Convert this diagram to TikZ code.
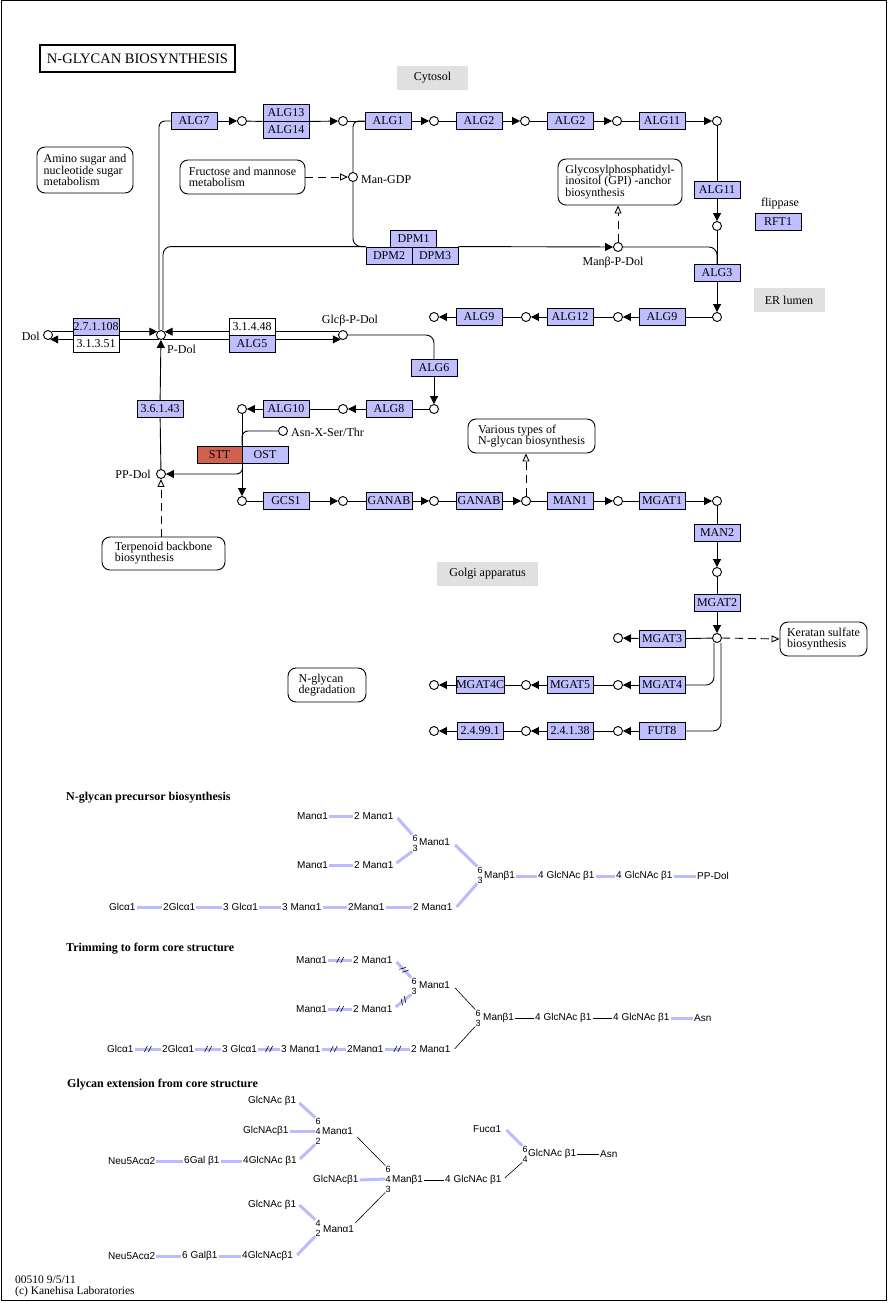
\documentclass[tikz,border=0pt]{standalone}
\usepackage{fontspec}
\setmainfont{Liberation Serif}
\newfontfamily\glyf{Liberation Sans}
\usetikzlibrary{arrows.meta,decorations.markings}
\definecolor{enzc}{RGB}{191,191,255}
\definecolor{sttc}{RGB}{209,96,80}
\definecolor{cmpc}{RGB}{224,224,224}
\definecolor{glyc}{RGB}{187,187,255}
\tikzset{
 kf/.style={font=\fontsize{12}{11.2}\selectfont},
 enz/.style={draw, fill=enzc, rectangle, minimum width=46pt, minimum height=17pt, inner sep=0pt, kf, line width=0.9pt},
 wenz/.style={enz, fill=white},
 cpd/.style={draw, fill=white, circle, minimum size=9pt, inner sep=0pt, line width=0.9pt},
 pmap/.style={draw, rounded corners=8pt, align=left, inner sep=0pt, kf, line width=0.9pt},
 comp/.style={fill=cmpc, minimum height=24pt, inner sep=0pt, kf},
 lbl/.style={kf, inner sep=0pt},
 rx/.style={line width=0.9pt},
 ar/.style={rx, -{Triangle[length=8pt,width=8pt]}},
 oar/.style={rx, dash pattern=on 8pt off 5pt, -{Triangle[open,length=8pt,width=7pt]}},
 gl/.style={glyc, line width=3pt},
 bl/.style={black, line width=0.6pt},
 gt/.style={font=\glyf\fontsize{10}{10}\selectfont, inner sep=1pt, anchor=west},
 gn/.style={font=\glyf\fontsize{9}{10}\selectfont, inner sep=0pt, align=center},
 hd/.style={font=\bfseries\fontsize{12}{12}\selectfont, anchor=west, inner sep=0pt},
 brk/.style={postaction={decorate, decoration={markings, mark=at position 0.5 with {\draw[black, line width=0.6pt] (-3.5,3)--(-0.5,-3) (0.5,3)--(3.5,-3);}}}}
}
\begin{document}
\begin{tikzpicture}[x=1pt,y=-1pt]
\useasboundingbox (0,0) rectangle (889,1303);
\draw[line width=1pt] (1,0.5) rectangle (886,1300.5);

% title and compartments
\node[draw, line width=2pt, minimum width=195pt, minimum height=27pt, inner sep=0pt, font=\fontsize{14.5}{14}\selectfont] (title) at (137.5,58.5) {N-GLYCAN BIOSYNTHESIS};
\node[comp, minimum width=71pt] (cyto) at (432.5,78) {Cytosol};
\node[comp, minimum width=71pt] (erl) at (789,300) {ER lumen};
\node[comp, minimum width=101pt] (golgi) at (487.5,574) {Golgi apparatus};

% pathway maps
\node[pmap, minimum width=96pt, minimum height=46pt] (amino) at (85,170) {Amino sugar and\\nucleotide sugar\\metabolism};
\node[pmap, minimum width=125pt, minimum height=34pt] (fru) at (242.5,177) {Fructose and mannose\\metabolism};
\node[pmap, minimum width=124pt, minimum height=46pt] (gpi) at (620,182) {Glycosylphosphatidyl-\\inositol (GPI) -anchor\\biosynthesis};
\node[pmap, minimum width=127pt, minimum height=34pt] (var) at (531.5,436) {Various types of\\N-glycan biosynthesis};
\node[pmap, minimum width=123pt, minimum height=33pt] (terp) at (163.5,553.5) {Terpenoid backbone\\biosynthesis};
\node[pmap, minimum width=78pt, minimum height=34pt] (ndeg) at (327,685) {N-glycan\\degradation};
\node[pmap, minimum width=87pt, minimum height=34pt] (ker) at (823.5,639) {Keratan sulfate\\biosynthesis};

% compounds
\node[cpd] (c1) at (242,121) {};
\node[cpd] (c2) at (343,121) {};
\node[cpd] (c3) at (434,121) {};
\node[cpd] (c4) at (525,121) {};
\node[cpd] (c5) at (617,121) {};
\node[cpd] (c6) at (717,121) {};
\node[cpd] (c7) at (717,226) {};
\node[cpd] (c8) at (717,317) {};
\node[cpd] (mangdp) at (353,177) {};
\node[lbl, anchor=west] (lmangdp) at (361,180) {Man-GDP};
\node[cpd] (manbpdol) at (618,247) {};
\node[lbl] (lmanb) at (613,263) {Manβ-P-Dol};
\node[cpd] (c9) at (618,317) {};
\node[cpd] (c10) at (526,317) {};
\node[cpd] (c11) at (434,317) {};
\node[cpd] (pdol) at (161,335) {};
\node[lbl, anchor=west] (lpdol) at (167,349) {P-Dol};
\node[cpd] (dol) at (48,335) {};
\node[lbl, anchor=east] (ldol) at (40,336) {Dol};
\node[cpd] (glcb) at (343,335) {};
\node[lbl] (lglcb) at (350,321) {Glcβ-P-Dol};
\node[cpd] (c12) at (434,409) {};
\node[cpd] (c13) at (343,409) {};
\node[cpd] (c14) at (242,409) {};
\node[cpd] (asn) at (283,431) {};
\node[lbl, anchor=west] (lasn) at (291,432) {Asn-X-Ser/Thr};
\node[cpd] (ppdol) at (161,474) {};
\node[lbl, anchor=east] (lppdol) at (151,474) {PP-Dol};
\node[cpd] (g1) at (242,501) {};
\node[cpd] (g2) at (343,501) {};
\node[cpd] (g3) at (434,501) {};
\node[cpd] (g4) at (526,501) {};
\node[cpd] (g5) at (618,501) {};
\node[cpd] (g6) at (717,501) {};
\node[cpd] (g7) at (717,572) {};
\node[cpd] (g8) at (717,638) {};
\node[cpd] (g9) at (618,638) {};
\node[cpd] (h1) at (618,685) {};
\node[cpd] (h2) at (526,685) {};
\node[cpd] (h3) at (434,685) {};
\node[cpd] (k1) at (618,731) {};
\node[cpd] (k2) at (526,731) {};
\node[cpd] (k3) at (434,731) {};

% lines passing through stacked boxes (drawn first)
\draw[ar] (dol.42) -- (pdol.138);
\draw[ar] (pdol.-117) -- (dol.-63);
\draw[ar] (glcb.138) -- (pdol.42);
\draw[ar] (pdol.-63) -- (glcb.-117);
\draw[ar] (c14.south) -- (g1.north);
\draw[rx, rounded corners=6pt] (asn.west) -| (242,445);

% enzymes
\node[enz] (ALG7) at (194,121) {ALG7};
\node[enz] (ALG13) at (286,112.5) {ALG13};
\node[enz] (ALG14) at (286,129.5) {ALG14};
\node[enz] (ALG1) at (388,121) {ALG1};
\node[enz] (ALG2a) at (479,121) {ALG2};
\node[enz] (ALG2b) at (570,121) {ALG2};
\node[enz] (ALG11a) at (662,121) {ALG11};
\node[enz] (ALG11b) at (717,190) {ALG11};
\node[enz] (ALG3) at (717,273) {ALG3};
\node[lbl] (lflip) at (780,204) {flippase};
\node[enz] (RFT1) at (778,222) {RFT1};
\node[enz] (DPM1) at (413.5,238.5) {DPM1};
\node[enz] (DPM2) at (389,255.5) {DPM2};
\node[enz] (DPM3) at (435,255.5) {DPM3};
\node[enz] (ALG9a) at (662,317) {ALG9};
\node[enz] (ALG12) at (570,317) {ALG12};
\node[enz] (ALG9b) at (479,317) {ALG9};
\node[enz] (e27) at (96,326.5) {2.7.1.108};
\node[wenz] (e31351) at (96,343.5) {3.1.3.51};
\node[wenz] (e31448) at (252,326.5) {3.1.4.48};
\node[enz] (ALG5) at (252,343.5) {ALG5};
\node[enz] (ALG6) at (434,368) {ALG6};
\node[enz] (ALG8) at (389,409) {ALG8};
\node[enz] (ALG10) at (286,409) {ALG10};
\node[enz] (e36143) at (160,409) {3.6.1.43};
\node[enz, fill=sttc, minimum width=45pt] (STT) at (219.5,455) {STT};
\node[enz] (OST) at (265,455) {OST};
\node[enz] (GCS1) at (286,501) {GCS1};
\node[enz] (GANAB1) at (389,501) {GANAB};
\node[enz] (GANAB2) at (479,501) {GANAB};
\node[enz] (MAN1) at (570,501) {MAN1};
\node[enz] (MGAT1) at (662,501) {MGAT1};
\node[enz] (MAN2) at (717,533) {MAN2};
\node[enz] (MGAT2) at (717,603) {MGAT2};
\node[enz] (MGAT3) at (662,639) {MGAT3};
\node[enz] (MGAT4) at (662,685) {MGAT4};
\node[enz] (MGAT5) at (570,685) {MGAT5};
\node[enz] (MGAT4C) at (480,685) {MGAT4C};
\node[enz] (FUT8) at (662,731) {FUT8};
\node[enz] (e24138) at (570,731) {2.4.1.38};
\node[enz] (e24991) at (480,731) {2.4.99.1};

% cytosol reactions
\draw[rx, rounded corners=6pt] ([xshift=-2pt]pdol.north) |- (ALG7.west);
\draw[ar] (ALG7) -- (c1);
\draw[rx] (c1) -- (ALG13.south west);
\draw[ar] (ALG13.south east) -- (c2);
\draw[rx] (c2) -- (ALG1);
\draw[ar] (ALG1) -- (c3);
\draw[rx] (c3) -- (ALG2a);
\draw[ar] (ALG2a) -- (c4);
\draw[rx] (c4) -- (ALG2b);
\draw[ar] (ALG2b) -- (c5);
\draw[rx] (c5) -- (ALG11a);
\draw[ar] (ALG11a) -- (c6);
\draw[rx] (c6) -- (ALG11b);
\draw[ar] (ALG11b) -- (c7);
\draw[rx] (c7) -- (ALG3);
\draw[ar] (ALG3) -- (c8);
\draw[rx, rounded corners=6pt] (mangdp.north) |- (ALG1.west);
\draw[rx, rounded corners=8pt] (mangdp.south) |- (DPM2.north west);
\draw[rx, rounded corners=8pt] ([xshift=2pt]pdol.north) |- (DPM2.north west);
\draw[ar] (DPM3.north east) -- (manbpdol);
\draw[rx, rounded corners=8pt] (manbpdol.east) -| (ALG3.north);
\draw[oar] (fru.east) -- (mangdp.west);
\draw[oar] (manbpdol.north) -- (gpi.south -| manbpdol);

% ER lumen reactions
\draw[rx] (c8) -- (ALG9a);
\draw[ar] (ALG9a) -- (c9);
\draw[rx] (c9) -- (ALG12);
\draw[ar] (ALG12) -- (c10);
\draw[rx] (c10) -- (ALG9b);
\draw[ar] (ALG9b) -- (c11);
\draw[rx, rounded corners=8pt] (glcb.east) -| (ALG6.north);
\draw[ar] (ALG6) -- (c12);
\draw[rx] (c12) -- (ALG8);
\draw[ar] (ALG8) -- (c13);
\draw[rx] (c13) -- (ALG10);
\draw[ar] (ALG10) -- (c14);
\draw[ar, rounded corners=6pt] (STT.south east) |- (ppdol.east);
\draw[rx] (ppdol) -- (e36143);
\draw[ar] (e36143) -- (pdol);
\draw[oar] (terp.north -| ppdol) -- (ppdol.south);

% Golgi reactions
\draw[rx] (g1) -- (GCS1);
\draw[ar] (GCS1) -- (g2);
\draw[rx] (g2) -- (GANAB1);
\draw[ar] (GANAB1) -- (g3);
\draw[rx] (g3) -- (GANAB2);
\draw[ar] (GANAB2) -- (g4);
\draw[rx] (g4) -- (MAN1);
\draw[ar] (MAN1) -- (g5);
\draw[rx] (g5) -- (MGAT1);
\draw[ar] (MGAT1) -- (g6);
\draw[rx] (g6) -- (MAN2);
\draw[ar] (MAN2) -- (g7);
\draw[rx] (g7) -- (MGAT2);
\draw[ar] (MGAT2) -- (g8);
\draw[oar] (g4.north) -- (g4.north |- var.south);
\draw[oar] (g8.east) -- (ker.west);
\draw[rx] (g8) -- (MGAT3);
\draw[ar] (MGAT3) -- (g9);
\draw[rx, rounded corners=8pt] ([xshift=-3pt]g8.south) |- (MGAT4.east);
\draw[ar] (MGAT4) -- (h1);
\draw[rx] (h1) -- (MGAT5);
\draw[ar] (MGAT5) -- (h2);
\draw[rx] (h2) -- (MGAT4C);
\draw[ar] (MGAT4C) -- (h3);
\draw[rx, rounded corners=8pt] ([xshift=4pt]g8.south) |- (FUT8.east);
\draw[ar] (FUT8) -- (k1);
\draw[rx] (k1) -- (e24138);
\draw[ar] (e24138) -- (k2);
\draw[rx] (k2) -- (e24991);
\draw[ar] (e24991) -- (k3);

% ===== glycan section 1 =====
\node[hd] (h1t) at (66,798) {N-glycan precursor biosynthesis};
\node[gt] (a1) at (296,816) {Manα1};
\node[gt] (a2) at (353,816) {2 Manα1};
\node[gt] (a3) at (296,865) {Manα1};
\node[gt] (a4) at (353,865) {2 Manα1};
\node[gn] (a5n) at (415,843) {6\\3};
\node[gt] (a5) at (418,842) {Manα1};
\node[gt] (a6) at (108,907) {Glcα1};
\node[gt] (a7) at (162,907) {2Glcα1};
\node[gt] (a8) at (222,907) {3 Glcα1};
\node[gt] (a9) at (281,907) {3 Manα1};
\node[gt] (a10) at (347,907) {2Manα1};
\node[gt] (a11) at (412,907) {2 Manα1};
\node[gn] (a12n) at (480,875) {6\\3};
\node[gt] (a12) at (483,876) {Manβ1};
\node[gt] (a13) at (537,876) {4 GlcNAc β1};
\node[gt] (a14) at (615,876) {4 GlcNAc β1};
\node[gt] (a15) at (696,876) {PP-Dol};
\draw[gl] (a1) -- (a2);
\draw[gl] (a3) -- (a4);
\draw[gl] (a6) -- (a7);
\draw[gl] (a7) -- (a8);
\draw[gl] (a8) -- (a9);
\draw[gl] (a9) -- (a10);
\draw[gl] (a10) -- (a11);
\draw[gl] (a12) -- (a13);
\draw[gl] (a13) -- (a14);
\draw[gl] (a14) -- (a15);
\draw[gl] ([xshift=3pt,yshift=-2pt]a2.east) -- (a5n.north west);
\draw[gl] ([xshift=2pt,yshift=2pt]a4.east) -- (a5n.south west);
\draw[gl] ([xshift=4pt,yshift=-3pt]a5.east) -- (a12n.north west);
\draw[gl] ([xshift=3pt]a11.east) -- (a12n.south west);

% ===== glycan section 2 =====
\node[hd] (h2t) at (66,949) {Trimming to form core structure};
\node[gt] (b1) at (295,960) {Manα1};
\node[gt] (b2) at (352,960) {2 Manα1};
\node[gt] (b3) at (295,1009) {Manα1};
\node[gt] (b4) at (352,1009) {2 Manα1};
\node[gn] (b5n) at (414,986) {6\\3};
\node[gt] (b5) at (418,985) {Manα1};
\node[gt] (b6) at (106,1049) {Glcα1};
\node[gt] (b7) at (161,1049) {2Glcα1};
\node[gt] (b8) at (221,1049) {3 Glcα1};
\node[gt] (b9) at (280,1049) {3 Manα1};
\node[gt] (b10) at (346,1049) {2Manα1};
\node[gt] (b11) at (410,1049) {2 Manα1};
\node[gn] (b12n) at (478,1018) {6\\3};
\node[gt] (b12) at (482,1018) {Manβ1};
\node[gt] (b13) at (534,1018) {4 GlcNAc β1};
\node[gt] (b14) at (612,1018) {4 GlcNAc β1};
\node[gt] (b15) at (693,1018) {Asn};
\draw[gl, brk] (b1) -- (b2);
\draw[gl, brk] (b3) -- (b4);
\draw[gl, brk] (b6) -- (b7);
\draw[gl, brk] (b7) -- (b8);
\draw[gl, brk] (b8) -- (b9);
\draw[gl, brk] (b9) -- (b10);
\draw[gl, brk] (b10) -- (b11);
\draw[gl, brk] ([xshift=3pt,yshift=-2pt]b2.east) -- (b5n.north west);
\draw[gl, brk] ([xshift=2pt,yshift=2pt]b4.east) -- (b5n.south west);
\draw[bl] ([xshift=4pt,yshift=-3pt]b5.east) -- (b12n.north west);
\draw[bl] ([xshift=3pt]b11.east) -- (b12n.south west);
\draw[bl] (b12) -- (b13);
\draw[bl] (b13) -- (b14);
\draw[gl] (b14) -- (b15);

% ===== glycan section 3 =====
\node[hd] (h3t) at (67,1085) {Glycan extension from core structure};
\node[gt] (t1) at (247,1101) {GlcNAc β1};
\node[gt] (t2) at (242,1131) {GlcNAcβ1};
\node[gt] (t3) at (107,1161) {Neu5Acα2};
\node[gt] (t4) at (183,1161) {6Gal β1};
\node[gt] (t5) at (242,1161) {4GlcNAc β1};
\node[gn] (n31) at (318,1131) {6\\4\\2};
\node[gt] (t6) at (321,1131) {Manα1};
\node[gn] (n32) at (388,1179) {6\\4\\3};
\node[gt] (t7) at (391,1180) {Manβ1};
\node[gt] (t8) at (312,1180) {GlcNAcβ1};
\node[gt] (t9) at (247,1205) {GlcNAc β1};
\node[gn] (n33) at (318,1228) {4\\2};
\node[gt] (t10) at (322,1229) {Manα1};
\node[gt] (t11) at (107,1256) {Neu5Acα2};
\node[gt] (t12) at (181,1256) {6 Galβ1};
\node[gt] (t13) at (241,1256) {4GlcNAcβ1};
\node[gt] (t14) at (444,1180) {4 GlcNAc β1};
\node[gn] (n34) at (525,1154) {6\\4};
\node[gt] (t15) at (527,1154) {GlcNAc β1};
\node[gt] (t16) at (599,1154) {Asn};
\node[gt] (t17) at (472,1129) {Fucα1};
\draw[gl] ([xshift=2pt,yshift=-2pt]t1.east) -- (n31.north west);
\draw[gl] (t2.east) -- (n31.west);
\draw[gl] (t3) -- (t4);
\draw[gl] (t4) -- (t5);
\draw[gl] ([xshift=2pt,yshift=2pt]t5.east) -- (n31.south west);
\draw[bl] ([xshift=3pt,yshift=-6pt]t6.east) -- (n32.north west);
\draw[gl] (t8.east) -- (n32.west);
\draw[gl] ([xshift=2pt]t9.east) -- (n33.north west);
\draw[gl] (t11) -- (t12);
\draw[gl] (t12) -- (t13);
\draw[gl] ([xshift=3pt,yshift=1pt]t13.east) -- (n33.south west);
\draw[bl] ([yshift=6pt]t10.east) -- (n32.south west);
\draw[bl] (t7) -- (t14);
\draw[bl] ([xshift=2pt,yshift=2pt]t14.east) -- (n34.south west);
\draw[gl] ([xshift=4pt,yshift=-1pt]t17.east) -- (n34.north west);
\draw[bl] (t15) -- (t16);

% footer
\node[anchor=west, inner sep=0pt, font=\fontsize{11.5}{11}\selectfont] (ft1) at (15,1280) {00510 9/5/11};
\node[anchor=west, inner sep=0pt, font=\fontsize{11.5}{11}\selectfont] (ft2) at (15,1292) {(c) Kanehisa Laboratories};
\end{tikzpicture}
\end{document}
